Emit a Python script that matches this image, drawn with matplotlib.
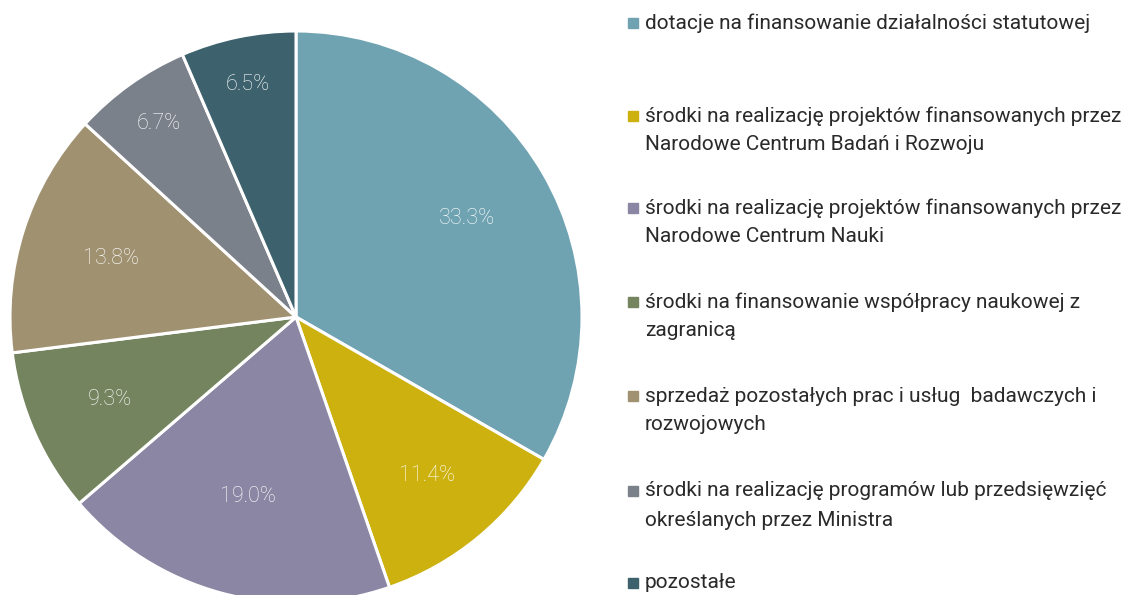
import matplotlib.pyplot as plt
import matplotlib.patches as mpatches
import numpy as np

plt.rcParams['font.family'] = ['Roboto', 'DejaVu Sans']

labels = ['dotacje na finansowanie działalności statutowej',
          'środki na realizację projektów finansowanych przez\nNarodowe Centrum Badań i Rozwoju',
          'środki na realizację projektów finansowanych przez\nNarodowe Centrum Nauki',
          'środki na finansowanie współpracy naukowej z\nzagranicą',
          'sprzedaż pozostałych prac i usług  badawczych i\nrozwojowych',
          'środki na realizację programów lub przedsięwzięć\nokreślanych przez Ministra',
          'pozostałe']
values = [33.3, 11.4, 19.0, 9.3, 13.8, 6.7, 6.5]
colors = ['#6fa3b2', '#ccb10f', '#8b86a3', '#74845f', '#a09171', '#7b818b', '#3d626d']
label_dist = [0.69, 0.72, 0.65, 0.71, 0.68, 0.83, 0.83]

W, H = 1123, 595
fig = plt.figure(figsize=(W / 100, H / 100), dpi=100)

# pie: centre (296, 317) px, radius 286 px
cx, cy, r = 296, 317, 286
ax = fig.add_axes([(cx - r) / W, (H - cy - r) / H, 2 * r / W, 2 * r / H])
wedges, _ = ax.pie(values, colors=colors, startangle=90, counterclock=False,
                   wedgeprops=dict(edgecolor='white', linewidth=2.2))
ax.set_xlim(-1, 1)
ax.set_ylim(-1, 1)
ax.set_aspect('auto')
ax.axis('off')

for w, v, d in zip(wedges, values, label_dist):
    ang = np.deg2rad((w.theta1 + w.theta2) / 2)
    ax.text(d * np.cos(ang), d * np.sin(ang), '%.1f%%' % v, ha='center', va='center',
            color='white', fontsize=15.5, fontweight='light')

# legend, drawn by hand: one square + lines of text per entry
ys = [23, 116, 208, 302, 396, 491, 583]
for lab, col, y in zip(labels, colors, ys):
    fig.patches.append(mpatches.Rectangle((628 / W, (H - y - 5) / H), 10 / W, 10 / H,
                                          transform=fig.transFigure, color=col))
    for i, line in enumerate(lab.split('\n')):
        fig.text(645 / W, (H - y - 29 * i) / H, line, ha='left', va='center',
                 fontsize=15, color='#2a2a2a')

fig.savefig('out.png', dpi=100)
